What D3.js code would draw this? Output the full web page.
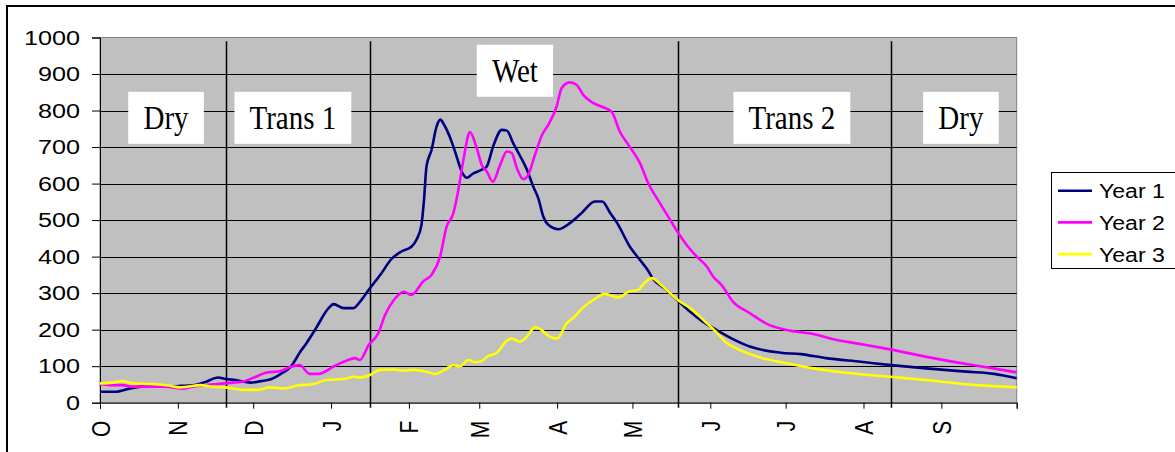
<!DOCTYPE html>
<html><head><meta charset="utf-8">
<script src="https://cdn.jsdelivr.net/npm/d3@7"></script>
<style>
html,body{margin:0;padding:0;background:#fff;}
svg{display:block;}
</style></head>
<body>
<svg id="chart" width="1175" height="452"></svg>
<script>
// ---- data (day of water year starting 1 Oct) ----
const monthDays = [0, 31, 61, 92, 123, 151, 182, 212, 243, 273, 304, 335, 365];
const monthLabels = ["O","N","D","J","F","M","A","M","J","J","A","S",""];
const yTicks = [0,100,200,300,400,500,600,700,800,900,1000];

const seriesNames = ["Year 1", "Year 2", "Year 3"];
const seriesColors = ["#000080", "#FF00FF", "#FFFF00"];

const days1 = [0,6,12,17,27,32,37,42,47,50,54,60,64,68,72,76,80,82,86,91,93,97,101,103,107,112,116,120,124,126,128,129,130,132,134,135.5,137,140,142,144,146,148.5,152,154,156.5,160,162,164.5,167,170,172.5,174.5,176.5,178.5,182.5,187,192,197,200,203,206,211,215,218,220,225.5,230,235,240,245.5,252,259,271,279,289,303,315,329,345,356,365];
const year1 = [30,30,39,44,44,46,48,57,69,65,62,55,59,64,79,99,142,161,204,259,270,259,259,272,309,354,393,414,427,446,487,555,647,692,756,775,761,715,674,633,616,627,638,647,701,747,745,711,679,638,592,560,510,487,475,491,521,551,551,521,491,427,391,364,341,309,280,249,222,199,174,153,137,133,122,112,103,94,85,79,67];

const days2 = [0,4,9,13,26,33,37,42,50,57,62,66,72,75.5,79.5,83.5,87,93,98,101.5,103.5,107,110.8,113.5,117,121,124,128.7,132,135.4,138,140.7,142.7,144.7,147.3,150,152,154,156.4,159.3,162,164,166,168.5,170.5,173.2,176,178.5,181.8,183.8,187,189.8,192.4,195.8,200.4,203.7,207,210.4,215,218.3,223,227,230.3,233.6,237.6,241.6,244.2,247.5,252,258.8,265.5,273.4,284,292,302.6,314.6,331.8,345,355.7,365];
const year2 = [51,48,48,44,44,38,44,48,53,58,71,82,87,97,103,79,79,99,115,122,117,158,190,240,281,304,295,332,350,400,482,519,583,665,741,697,651,633,605,651,688,683,642,612,624,679,733,761,811,861,877,870,843,823,809,797,742,706,656,601,546,501,464,432,400,373,345,322,277,245,216,199,188,174,161,146,122,106,94,83];

const days3 = [0,5,9,13,20,26.5,32,40,45,50,57,62,68,73,78.5,85,90,97,101,103.5,107.5,111.5,116.8,120.8,124.7,130,133.4,137.4,140.7,143.3,146.7,149.3,151.3,154.6,158,162,164,167.2,170,173.2,175.2,179,182,185.8,189,192.4,196.4,201,206.4,210.4,214.3,217,219.7,223,227,230.3,235,240.2,245,249.5,254.8,262.8,273.4,284,297.3,314.6,331.8,349,365];
const year3 = [53,55,59,53,51,48,42,48,44,42,35,35,42,39,47,51,62,65,71,69,76,90,91,88,90,85,79,91,103,100,117,111,112,128,137,170,176,167,181,207,202,181,176,217,236,261,281,298,288,304,309,329,341,325,300,280,259,227,196,164,144,124,108,94,82,71,60,48,42];

const seasonDividers = [50, 107.5, 230, 315];
const seasonLabels = ["Dry", "Trans 1", "Wet", "Trans 2", "Dry"];
const seasonLabelDays = [26.3, 76.8, 165.2, 275.5, 342.8];
const seasonLabelValues = [780, 780, 909, 780, 780];

// ---- drawing ----
const svg = d3.select("#chart");
const W = 1175, H = 452;
const pLeft = 100, pRight = 1016.7, pTop = 37.5, pBottom = 402.7;

const x = d3.scaleLinear().domain([0, 365]).range([pLeft, pRight]);
const y = d3.scaleLinear().domain([0, 1000]).range([pBottom, pTop]);

// outer frame
svg.append("rect").attr("x", 7).attr("y", 6).attr("width", W + 10).attr("height", H + 10)
  .attr("fill", "#fff").attr("stroke", "#000").attr("stroke-width", 2);

// plot background
svg.append("rect").attr("x", pLeft).attr("y", pTop).attr("width", pRight - pLeft).attr("height", pBottom - pTop)
  .attr("fill", "#C0C0C0").attr("stroke", "#808080").attr("stroke-width", 1);

// gridlines
svg.append("g").selectAll("line").data(yTicks.filter(d => d > 0 && d < 1000)).join("line")
  .attr("x1", pLeft).attr("x2", pRight)
  .attr("y1", d => Math.round(y(d)) + 0.5).attr("y2", d => Math.round(y(d)) + 0.5)
  .attr("stroke", "#000").attr("stroke-width", 1);

// season dividers
svg.append("g").selectAll("line").data(seasonDividers).join("line")
  .attr("x1", d => Math.round(x(d)) + 0.5).attr("x2", d => Math.round(x(d)) + 0.5)
  .attr("y1", y(990)).attr("y2", pBottom + 5)
  .attr("stroke", "#000").attr("stroke-width", 1.5);

// y axis
const yAxis = svg.append("g").attr("transform", `translate(${pLeft},0)`)
  .call(d3.axisLeft(y).tickValues(yTicks).tickSize(8).tickPadding(12).tickFormat(d3.format("d")));
yAxis.select(".domain").attr("stroke", "#000");
yAxis.selectAll(".tick line").attr("stroke", "#000");
yAxis.selectAll(".tick text").attr("font-family", "Liberation Sans, Arial, sans-serif")
  .attr("font-size", 21).attr("fill", "#000")
  .attr("x", -20 / 1.2).attr("transform", "scale(1.2,1)");

// x axis
const xAxis = svg.append("g").attr("transform", `translate(0,${pBottom})`)
  .call(d3.axisBottom(x).tickValues(monthDays).tickSize(6).tickFormat((d, i) => monthLabels[i]));
xAxis.select(".domain").attr("stroke", "#000");
xAxis.selectAll(".tick line").attr("stroke", "#000");
xAxis.selectAll(".tick text")
  .attr("font-family", "Liberation Sans, Arial, sans-serif").attr("font-size", 21).attr("fill", "#000")
  .attr("text-anchor", "end")
  .attr("transform", "translate(0,18) rotate(-90) scale(1,1.2)")
  .attr("x", 0).attr("y", 0).attr("dy", "0.36em");

// series lines
const series = [
  {days: days1, vals: year1},
  {days: days2, vals: year2},
  {days: days3, vals: year3}
];
const line = d3.line().x(d => x(d[0])).y(d => y(d[1])).curve(d3.curveMonotoneX);
const plotG = svg.append("g");
series.forEach((s, i) => {
  const pts = s.days.map((d, j) => [d, s.vals[j]]);
  plotG.append("path").datum(pts).attr("d", line)
    .attr("fill", "none").attr("stroke", seriesColors[i]).attr("stroke-width", 2.6)
    .attr("stroke-linejoin", "round");
});

// season labels
const sg = svg.append("g");
seasonLabels.forEach((lab, i) => {
  const cx = x(seasonLabelDays[i]), cy = y(seasonLabelValues[i]);
  const g = sg.append("g");
  const rect = g.append("rect").attr("fill", "#fff");
  const sx = 0.88;
  const t = g.append("text").attr("x", cx / sx).attr("y", cy).attr("dy", "0.35em")
    .attr("transform", `scale(${sx},1)`)
    .attr("text-anchor", "middle").attr("font-family", "Liberation Serif, Times New Roman, serif")
    .attr("font-size", 33).attr("fill", "#000").text(lab);
  const bw = t.node().getBBox().width * sx + 30, bh = 52;
  rect.attr("x", cx - bw / 2).attr("y", cy - bh / 2).attr("width", bw).attr("height", bh);
});

// legend
const lg = svg.append("g");
lg.append("rect").attr("x", 1051.5).attr("y", 172.5).attr("width", 140).attr("height", 96)
  .attr("fill", "#fff").attr("stroke", "#000").attr("stroke-width", 1);
seriesNames.forEach((n, i) => {
  const ly = 190.7 + i * 31.7;
  lg.append("line").attr("x1", 1058).attr("x2", 1092).attr("y1", ly).attr("y2", ly)
    .attr("stroke", seriesColors[i]).attr("stroke-width", 2.6);
  lg.append("text").attr("x", 1099 / 1.1).attr("y", ly + 7.5)
    .attr("transform", "scale(1.1,1)")
    .attr("font-family", "Liberation Sans, Arial, sans-serif").attr("font-size", 21).attr("fill", "#000")
    .text(n);
});
</script>
</body></html>
